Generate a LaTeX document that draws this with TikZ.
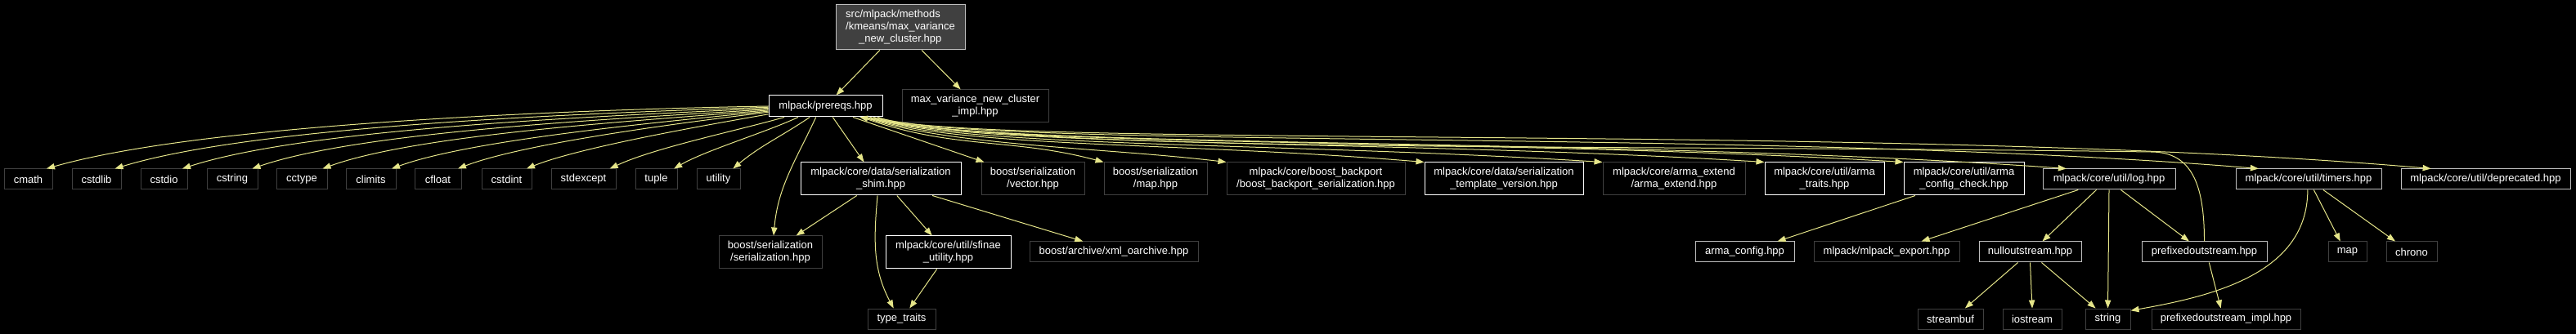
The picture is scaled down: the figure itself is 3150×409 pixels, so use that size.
\documentclass[tikz,border=0pt]{standalone}
\usepackage{fontspec}
\setmainfont{Liberation Sans}
\usetikzlibrary{arrows.meta}
\definecolor{depedge}{RGB}{229,229,137}
\definecolor{extline}{RGB}{64,64,64}
\definecolor{mainfill}{RGB}{64,64,64}
\definecolor{refline}{RGB}{191,191,191}
\tikzset{
  filebox/.style={draw, line width=0.75pt, fill=black, text=white, inner sep=0pt,
    align=center, font=\fontsize{9.75}{11.25}\selectfont},
  boxsize/.style 2 args={minimum width=#1*0.75pt, minimum height=#2*0.75pt},
  docbox/.style={filebox, draw=white},
  refbox/.style={filebox, draw=refline},
  extbox/.style={filebox, draw=extline},
  mainbox/.style={filebox, draw=refline, fill=mainfill, align=left},
  dep/.style={draw=depedge, line width=0.75pt, -{Triangle[length=7.5pt,width=5.5pt]}},
}
\begin{document}
\begin{tikzpicture}[x=0.75pt, y=0.75pt]
        \fill[black] (0,0) rectangle (3150,-409);

        \node[mainbox, boxsize={158}{55}] (root) at (1101,-33.5) {src/mlpack/methods\\/kmeans/max\_variance\\\hspace*{12pt}\_new\_cluster.hpp};
        \node[docbox, boxsize={139}{26}] (prereqs) at (1009.5,-130) {mlpack/prereqs.hpp};
        \node[extbox, boxsize={179}{40}] (impl) at (1192.5,-130) {max\_variance\_new\_cluster\\\_impl.hpp};

        \node[extbox, boxsize={59}{25}] (cmath) at (34.5,-219.5) {cmath};
        \node[extbox, boxsize={60}{25}] (cstdlib) at (118,-219.5) {cstdlib};
        \node[extbox, boxsize={57}{25}] (cstdio) at (200.5,-219.5) {cstdio};
        \node[extbox, boxsize={62}{25}] (cstring) at (284,-219.5) {cstring};
        \node[extbox, boxsize={62}{25}] (cctype) at (369,-219.5) {cctype};
        \node[extbox, boxsize={61}{25}] (climits) at (453.5,-219.5) {climits};
        \node[extbox, boxsize={57}{25}] (cfloat) at (535.5,-219.5) {cfloat};
        \node[extbox, boxsize={61}{25}] (cstdint) at (619.5,-219.5) {cstdint};
        \node[extbox, boxsize={79}{25}] (stdexcept) at (713.5,-219.5) {stdexcept};
        \node[extbox, boxsize={51}{25}] (tuple) at (802.5,-219.5) {tuple};
        \node[extbox, boxsize={53}{25}] (utility) at (878.5,-219.5) {utility};
        \node[docbox, boxsize={196}{40}] (shim) at (1077,-219) {mlpack/core/data/serialization\\\_shim.hpp};
        \node[extbox, boxsize={126}{40}] (vector) at (1263,-219) {boost/serialization\\/vector.hpp};
        \node[extbox, boxsize={126}{40}] (maphpp) at (1413,-219) {boost/serialization\\/map.hpp};
        \node[extbox, boxsize={218}{40}] (backport) at (1609,-219) {mlpack/core/boost\_backport\\/boost\_backport\_serialization.hpp};
        \node[docbox, boxsize={194}{40}] (tmplver) at (1839,-219) {mlpack/core/data/serialization\\\_template\_version.hpp};
        \node[extbox, boxsize={174}{40}] (armaext) at (2047,-219) {mlpack/core/arma\_extend\\/arma\_extend.hpp};
        \node[docbox, boxsize={146}{40}] (armatraits) at (2231,-219) {mlpack/core/util/arma\\\_traits.hpp};
        \node[docbox, boxsize={147}{40}] (armacheck) at (2401.5,-219) {mlpack/core/util/arma\\\_config\_check.hpp};
        \node[refbox, boxsize={162}{25}] (log) at (2579,-219.5) {mlpack/core/util/log.hpp};
        \node[refbox, boxsize={178}{25}] (timers) at (2823,-219.5) {mlpack/core/util/timers.hpp};
        \node[refbox, boxsize={207}{25}] (deprecated) at (3039.5,-219.5) {mlpack/core/util/deprecated.hpp};

        \node[extbox, boxsize={126}{40}] (serial) at (942,-309) {boost/serialization\\/serialization.hpp};
        \node[docbox, boxsize={153}{40}] (sfinae) at (1159.5,-309) {mlpack/core/util/sfinae\\\_utility.hpp};
        \node[extbox, boxsize={206}{25}] (xmlarch) at (1362,-308.5) {boost/archive/xml\_oarchive.hpp};
        \node[refbox, boxsize={121}{25}] (armacfg) at (2133.5,-308.5) {arma\_config.hpp};
        \node[extbox, boxsize={178}{25}] (export) at (2307,-308.5) {mlpack/mlpack\_export.hpp};
        \node[refbox, boxsize={125}{25}] (nullout) at (2482.5,-308.5) {nulloutstream.hpp};
        \node[refbox, boxsize={153}{25}] (prefixed) at (2695.5,-308.5) {prefixedoutstream.hpp};
        \node[extbox, boxsize={47}{25}] (stdmap) at (2870.5,-308.5) {map};
        \node[extbox, boxsize={62}{25}] (chrono) at (2949,-308.5) {chrono};

        \node[extbox, boxsize={83}{25}] (typetraits) at (1102.5,-390.5) {type\_traits};
        \node[extbox, boxsize={80}{25}] (streambuf) at (2385,-390.5) {streambuf};
        \node[extbox, boxsize={72}{25}] (iostream) at (2485,-390.5) {iostream};
        \node[extbox, boxsize={55}{25}] (string) at (2577.5,-390.5) {string};
        \node[extbox, boxsize={182}{25}] (prefimpl) at (2722,-390.5) {prefixedoutstream\_impl.hpp};

        \draw[dep] (root.228) -- (prereqs.46);
        \draw[dep] (root.-47) -- (impl.131);

        \draw[dep] (prereqs.180) to[out=181, in=16, looseness=0.6] (cmath.30);
        \draw[dep] (prereqs.181) to[out=182, in=17, looseness=0.6] (cstdlib.30);
        \draw[dep] (prereqs.182) to[out=183, in=18, looseness=0.6] (cstdio.30);
        \draw[dep] (prereqs.183) to[out=184, in=19, looseness=0.6] (cstring.28);
        \draw[dep] (prereqs.184) to[out=185, in=20, looseness=0.6] (cctype.27);
        \draw[dep] (prereqs.185) to[out=186, in=20, looseness=0.6] (climits.27);
        \draw[dep] (prereqs.186) to[out=187, in=21, looseness=0.6] (cfloat.28);
        \draw[dep] (prereqs.188) to[out=190, in=22, looseness=0.6] (cstdint.28);
        \draw[dep] (prereqs.195) to[out=196, in=25, looseness=0.7] (stdexcept.22);
        \draw[dep] (prereqs.202) to[out=205, in=30, looseness=0.7] (tuple.31);
        \draw[dep] (prereqs.215) to[out=214, in=40] (utility.36);

        \draw[dep] (prereqs.229) to[out=-115, in=85] (serial.79);
        \draw[dep] (prereqs.-57) -- (shim.135);
        \draw[dep] (prereqs.-22) -- (vector.161);
        \draw[dep] (prereqs.-17) to[out=-20, in=165] (maphpp.north west);
        \draw[dep] (prereqs.-16) .. controls +(100,-35) and +(-150,18) .. (backport.north west);
        \draw[dep] (prereqs.-15) .. controls +(110,-38) and +(-300,25) .. (tmplver.north west);
        \draw[dep] (prereqs.-14.5) .. controls +(110,-38) and +(-400,25) .. (armaext.north west);
        \draw[dep] (prereqs.-14) .. controls +(110,-38) and +(-450,28) .. (armatraits.north west);
        \draw[dep] (prereqs.-13.5) .. controls +(110,-38) and +(-500,30) .. (armacheck.north west);
        \draw[dep] (prereqs.-13) .. controls +(110,-40) and +(-550,40) .. (log.166);
        \draw[dep] (prereqs.-12.5) .. controls +(105,-40) and +(-600,50) .. (timers.168);
        \draw[dep] (prereqs.-12) .. controls +(100,-40) and +(-650,57) .. (deprecated.169);

        \draw[dep] (shim.215) -- (serial.33);
        \draw[dep] (shim.259) to[out=-95, in=118] (typetraits.127);
        \draw[dep] (shim.-46) -- (sfinae.134);
        \draw[dep] (shim.-18) -- (xmlarch.161);
        \draw[dep] (sfinae.236) -- (typetraits.53);

        \draw[dep] (armacheck.199) -- (armacfg.18);
        \draw[dep] (log.199) -- (export.17);
        \draw[dep] (log.220) -- (nullout.41);
        \draw[dep] (log.south) -- (string.north);
        \draw[dep] (log.-42) -- (prefixed.145);
        \draw[dep] (nullout.221) -- (streambuf.36);
        \draw[dep] (nullout.south) -- (iostream.north);
        \draw[dep] (nullout.-43) -- (string.139);
        \draw[dep] (prefixed.-66) -- (prefimpl.116);
        \draw[dep] (prefixed.north) .. controls +(0,70) and +(50,0) .. (2630,-186)
            .. controls +(-700,10) and +(250,-45) .. (prereqs.-18);
        \draw[dep] (timers.-64) -- (stdmap.124);
        \draw[dep] (timers.-36) -- (chrono.147);
        \draw[dep] (timers.-95) to[out=-90, in=10] (string.20);
    \end{tikzpicture}
\end{document}
